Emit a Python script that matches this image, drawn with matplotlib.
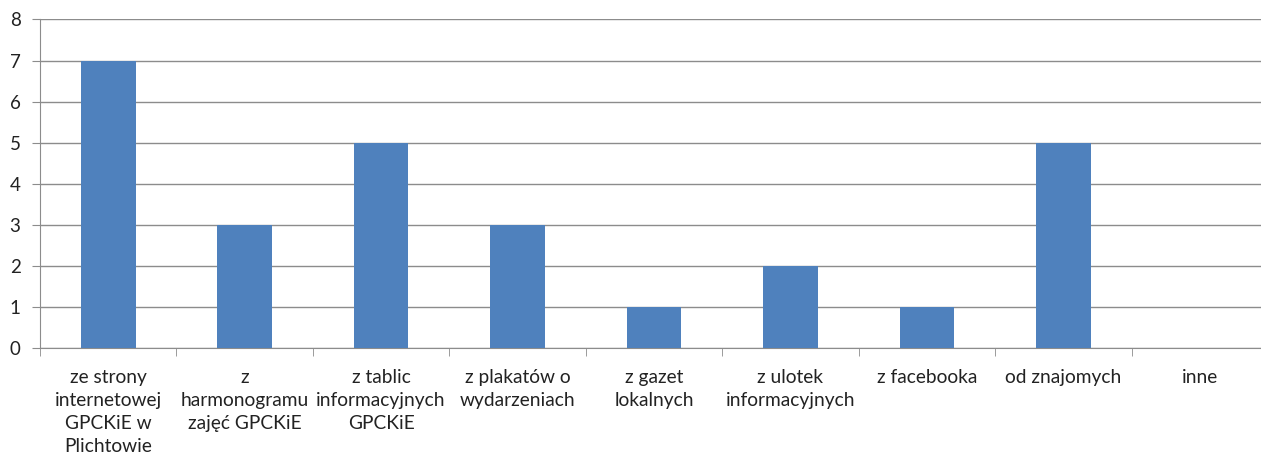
import matplotlib
matplotlib.use('Agg')
import matplotlib.pyplot as plt
import numpy as np

plt.rcParams['font.family'] = ['Lato', 'DejaVu Sans']

categories = ['ze strony\ninternetowej\nGPCKiE w\nPlichtowie',
              'z\nharmonogramu\nzajęć GPCKiE',
              'z tablic\ninformacyjnych\nGPCKiE',
              'z plakatów o\nwydarzeniach',
              'z gazet\nlokalnych',
              'z ulotek\ninformacyjnych',
              'z facebooka',
              'od znajomych',
              'inne']
values = [7, 3, 5, 3, 1, 2, 1, 5, 0]

fig = plt.figure(figsize=(12.61, 4.61), dpi=100)
ax = fig.add_axes([40 / 1261, 113 / 461, 1228 / 1261, 328.5 / 461])

x = np.arange(len(categories))
ax.bar(x, values, width=0.4, color='#4F81BD', zorder=3)

ax.set_xlim(-0.5, len(categories) - 0.5)
ax.set_ylim(0, 8)
ax.set_yticks(range(0, 9))
ax.grid(axis='y', color='#8C8C8C', linewidth=1.0, zorder=0)

for side in ['top', 'right']:
    ax.spines[side].set_visible(False)
ax.spines['left'].set_color('#8C8C8C')
ax.spines['bottom'].set_color('#8C8C8C')

# category labels centred, ticks on boundaries
ax.set_xticks(x)
ax.set_xticklabels(categories, fontsize=13.8, linespacing=1.43, va='top',
                   color='#222222')
ax.tick_params(axis='x', length=0, pad=15)
ax.set_xticks(np.arange(-0.5, len(categories)), minor=True)
ax.tick_params(axis='x', which='minor', length=6, color='#8C8C8C')
ax.tick_params(axis='y', length=6, color='#8C8C8C', labelsize=13.5, pad=8,
               labelcolor='#222222')

fig.savefig('out.png', dpi=100)
